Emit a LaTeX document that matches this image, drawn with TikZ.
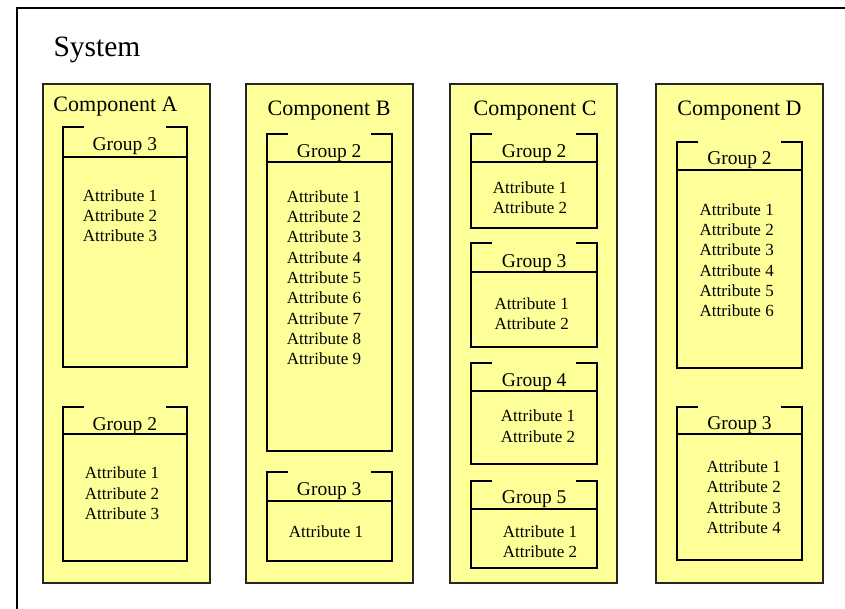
\documentclass[tikz,border=0pt]{standalone}
\usepackage{fontspec}
\setmainfont{Liberation Serif}
\definecolor{compyellow}{RGB}{255,255,153}

\begin{document}
\begin{tikzpicture}[x=1pt,y=-1pt,
  comp/.style={draw=black!85,line width=2pt,fill=compyellow,anchor=north west,
    minimum width=167pt,minimum height=499pt,inner sep=0pt},
  grp/.style={line width=2pt},
  comptitle/.style={font=\fontsize{22}{26}\selectfont,anchor=base},
  grptitle/.style={font=\fontsize{19.5}{23}\selectfont,anchor=base},
  attr/.style={font=\fontsize{17}{20.3}\selectfont,align=left}]
\clip (0,0) rectangle (845,608);
\draw[line width=2pt] (17,8) rectangle (880,650);
\node[anchor=base west,font=\fontsize{29.5}{34}\selectfont] (system) at (50,56.7) {System};
% components
\foreach \l/\n in {42/A,245/B,449/C,655/D}
  \node[comp] (comp\n) at (\l,83) {};
\foreach \x/\y/\n in {115.5/111.7/A,329/115/B,535/115/C,739.5/115/D}
  \node[comptitle] (title\n) at (\x,\y) {Component \n};
% groups: left/right/top/divider/bottom/title baseline/number/attr x/attr y/attrs
\foreach \l/\r/\t/\d/\b/\ty/\g/\ax/\ay/\txt [count=\i] in {
  62.7/187/126.7/156.7/367.3/150/3/120/215.8/{Attribute 1\\Attribute 2\\Attribute 3},
  62.7/187/406.7/434.3/561/430/2/122/493.2/{Attribute 1\\Attribute 2\\Attribute 3},
  266.7/391.7/134/162/450.7/157.3/2/324/277.7/{Attribute 1\\Attribute 2\\Attribute 3\\Attribute 4\\Attribute 5\\Attribute 6\\Attribute 7\\Attribute 8\\Attribute 9},
  266.7/391.7/472.3/500.7/561/495/3/326/531.7/{Attribute 1},
  471/597.3/134.3/162.3/227.5/157.3/2/530/198/{Attribute 1\\Attribute 2},
  471/597.3/242.7/272.3/346.5/267.3/3/531.7/313.7/{Attribute 1\\Attribute 2},
  471/597.3/362.7/390.7/464.3/386.6/4/538/426.3/{Attribute 1\\Attribute 2},
  471/597.3/480.7/509/568.3/503.3/5/540/541.7/{Attribute 1\\Attribute 2},
  677.3/801.7/142.3/170/367.7/164/2/736.7/260.2/{Attribute 1\\Attribute 2\\Attribute 3\\Attribute 4\\Attribute 5\\Attribute 6},
  677.3/801.7/406.7/434.3/560/429.3/3/743.7/497.2/{Attribute 1\\Attribute 2\\Attribute 3\\Attribute 4}}
{
  \draw[grp] (\l+21,\t) -| (\l,\b) -| (\r,\t) -- (\r-21,\t);
  \draw[grp] (\l,\d) -- (\r,\d);
  \node[grptitle] (group\i) at ({(\l+\r)/2},\ty) {Group \g};
  \node[attr] (attrs\i) at (\ax,\ay) {\txt};
}
\end{tikzpicture}
\end{document}
